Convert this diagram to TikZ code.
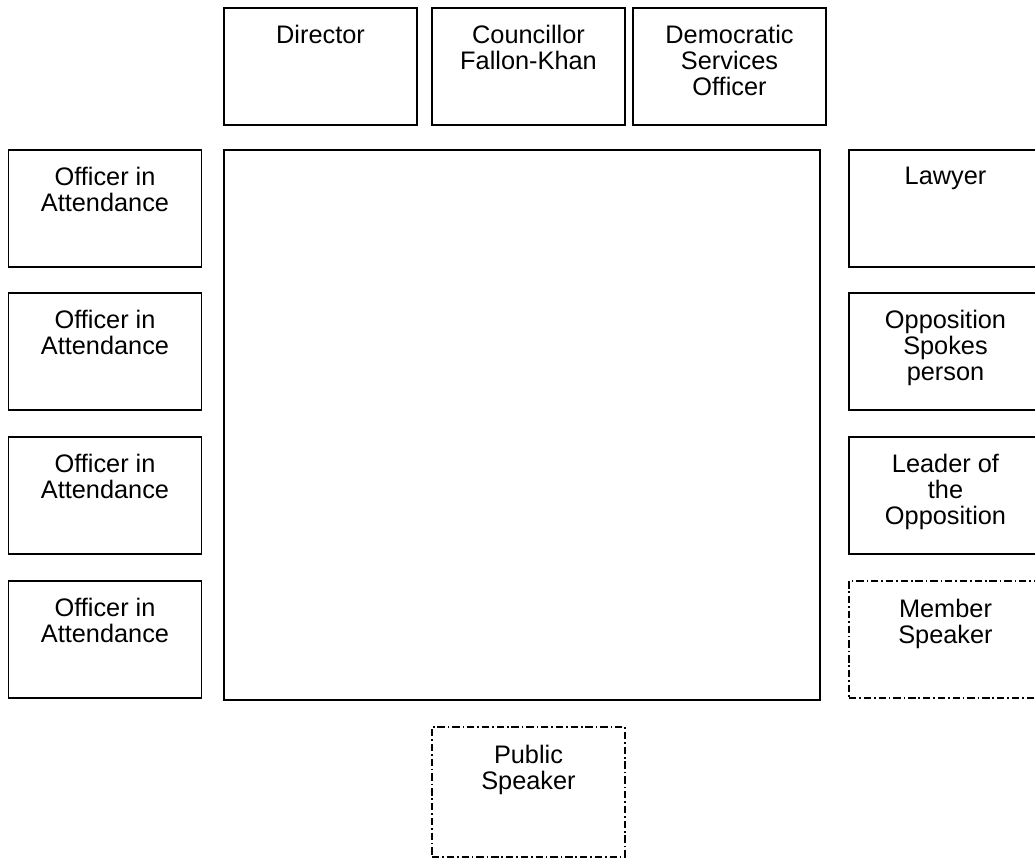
\documentclass[tikz,border=0pt]{standalone}
\usepackage{fontspec}
\setmainfont{Liberation Sans}
\usetikzlibrary{positioning}

\begin{document}
\begin{tikzpicture}[x=0.75pt, y=-0.75pt,
    seat/.style={draw, line width=1.1pt, minimum width=144.75pt, minimum height=87.75pt, inner sep=0pt},
    guest/.style={seat, line width=0.8pt, dash pattern=on 5.5pt off 2.2pt on 1.2pt off 2.2pt},
    seatlabel/.style={anchor=north, align=center, inner sep=0pt, font=\fontsize{19}{19.5}\selectfont}]
  \useasboundingbox (0,0) rectangle (1035,859);
  % top row
  \node[seat] (dir) at (320.5,66.5) {};
  \node[seat] (cllr) at (528.5,66.5) {};
  \node[seat] (dso) at (729.5,66.5) {};
  \node[seatlabel] at ([yshift=-13.5pt]dir.north) {Director};
  \node[seatlabel] at ([yshift=-13.5pt]cllr.north) {Councillor\\Fallon-Khan};
  \node[seatlabel] at ([yshift=-13.5pt]dso.north) {Democratic\\Services\\Officer};
  % table
  \node[draw, line width=1.1pt, minimum width=447pt, minimum height=412.5pt, inner sep=0pt] (table) at (522,425) {};
  % officers on the left
  \foreach \i/\y in {1/208.5,2/351.5,3/495.5,4/639.5}{
    \node[seat] (off\i) at (105,\y) {};
    \node[seatlabel] at ([yshift=-13.5pt]off\i.north) {Officer in\\Attendance};
  }
  % right side
  \node[seat] (law) at (945.5,208.5) {};
  \node[seat] (opp) at (945.5,351.5) {};
  \node[seat] (lead) at (945.5,495.5) {};
  \node[guest] (mem) at (945.5,639.5) {};
  \node[seatlabel] at ([yshift=-13.5pt]law.north) {Lawyer};
  \node[seatlabel] at ([yshift=-13.5pt]opp.north) {Opposition\\Spokes\\person};
  \node[seatlabel] at ([yshift=-13.5pt]lead.north) {Leader of\\the\\Opposition};
  \node[seatlabel] at ([yshift=-13.5pt]mem.north) {Member\\Speaker};
  % public
  \node[guest, minimum height=97.5pt] (pub) at (528.5,792) {};
  \node[seatlabel] at ([yshift=-13.5pt]pub.north) {Public\\Speaker};
\end{tikzpicture}
\end{document}
